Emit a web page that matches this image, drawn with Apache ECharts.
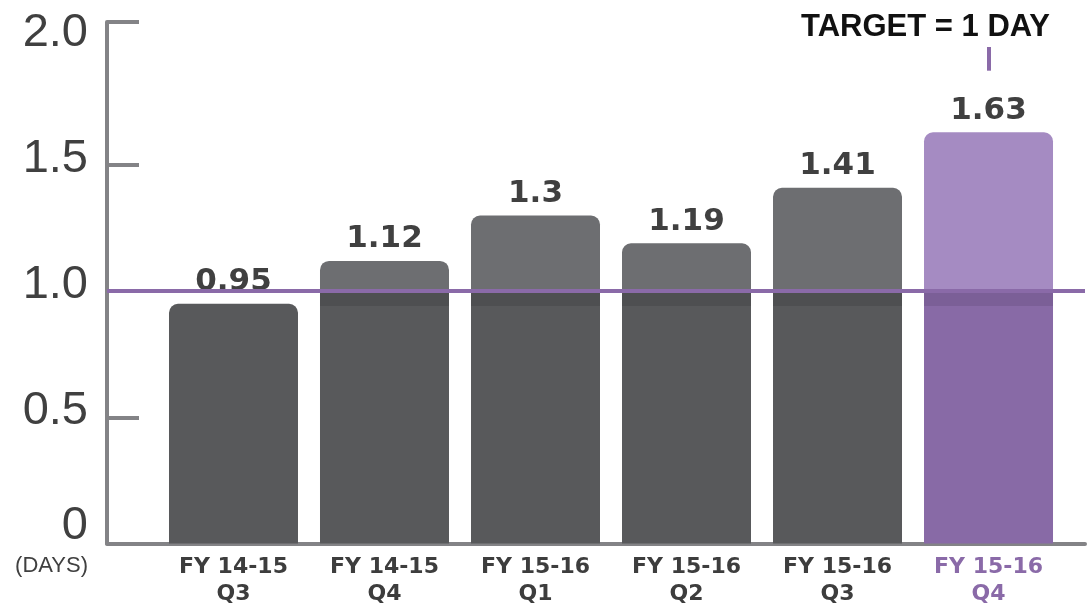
<!DOCTYPE html>
<html>
<head>
<meta charset="utf-8">
<script src="https://cdn.jsdelivr.net/npm/echarts@6/dist/echarts.min.js"></script>
<style>html,body{margin:0;padding:0;background:#fff}#c{width:1092px;height:605px}</style>
</head>
<body>
<div id="c"></div>
<script>
// ---- data ----
const categories = ['FY 14-15\nQ3', 'FY 14-15\nQ4', 'FY 15-16\nQ1', 'FY 15-16\nQ2', 'FY 15-16\nQ3', 'FY 15-16\nQ4'];
const values = [0.95, 1.12, 1.3, 1.19, 1.41, 1.63];
const yTickLabels = ['0', '0.5', '1.0', '1.5', '2.0'];
const yTickValues = [0, 0.5, 1, 1.5, 2];
const targetValue = 1;
const targetText = 'TARGET = 1 DAY';
const unitText = '(DAYS)';

// ---- styles ----
const GRAY = { light: '#6d6e71', band: '#4e4f51', dark: '#58595b' };
const PURPLE = { light: '#a58bc2', band: '#7b5f97', dark: '#886aa6' };
const LINE_PURPLE = '#8a6aa8';
const AXIS_GRAY = '#838386';
const TEXT = '#404040';
const bandBottom = 0.94;
const highlightIndex = categories.length - 1;

function barColor(v, i) {
  const c = i === highlightIndex ? PURPLE : GRAY;
  if (v <= targetValue) return c.dark;
  const f1 = (v - targetValue) / v;
  const f2 = (v - bandBottom) / v;
  return new echarts.graphic.LinearGradient(0, 0, 0, 1, [
    { offset: 0, color: c.light }, { offset: f1, color: c.light },
    { offset: f1, color: c.band }, { offset: f2, color: c.band },
    { offset: f2, color: c.dark }, { offset: 1, color: c.dark }
  ]);
}

const chart = echarts.init(document.getElementById('c'), null, { renderer: 'canvas' });
const yMax = 2.067;
const xMin = -0.8377, xMax = 5.639;

chart.setOption({
  animation: false,
  backgroundColor: '#ffffff',
  grid: { left: 107, right: 7, top: 22, bottom: 60 },
  xAxis: {
    type: 'value', min: xMin, max: xMax,
    splitLine: { show: false },
    axisTick: { show: false },
    axisLine: { show: true, onZero: false, lineStyle: { color: AXIS_GRAY, width: 4 } },
    axisLabel: {
      customValues: categories.map((_, i) => i),
      margin: 10,
      formatter: v => {
        const i = Math.round(v);
        const s = categories[i] || '';
        const st = i === highlightIndex ? 'p' : 'n';
        return s.split('\n').map(l => '{' + st + '|' + l + '}').join('\n');
      },
      rich: {
        n: { fontFamily: 'DejaVu Sans', fontWeight: 'bold', fontSize: 22, color: '#3d3d3d', lineHeight: 27 },
        p: { fontFamily: 'DejaVu Sans', fontWeight: 'bold', fontSize: 22, color: LINE_PURPLE, lineHeight: 27 }
      }
    }
  },
  yAxis: {
    type: 'value', min: 0, max: yMax,
    splitLine: { show: false },
    axisLine: { show: true, onZero: false, lineStyle: { color: AXIS_GRAY, width: 4 } },
    axisTick: { show: true, inside: true, length: 32, customValues: [0.5, 1.5, yMax], lineStyle: { color: AXIS_GRAY, width: 4 } },
    axisLabel: {
      customValues: yTickValues,
      margin: 19,
      formatter: v => {
        const i = yTickValues.indexOf(v);
        const s = i >= 0 ? yTickLabels[i] : '';
        return v === 0 ? '{z|' + s + '}' : '{a|' + s + '}';
      },
      rich: {
        a: { fontFamily: 'Liberation Sans', fontSize: 47, color: TEXT, padding: [0, 0, 12, 0] },
        z: { fontFamily: 'Liberation Sans', fontSize: 47, color: TEXT, padding: [0, 0, 34, 0] }
      }
    }
  },
  series: [{
    type: 'bar',
    barWidth: 129,
    data: values.map((v, i) => ({
      value: [i, v],
      itemStyle: { color: barColor(v, i), borderRadius: [9, 9, 0, 0] }
    })),
    label: {
      show: true, position: 'top', distance: 6,
      formatter: p => String(values[p.dataIndex]),
      fontFamily: 'DejaVu Sans', fontWeight: 'bold', fontSize: 31, color: TEXT
    },
    markLine: {
      silent: true, symbol: 'none', animation: false,
      label: { show: false },
      data: [
        { yAxis: targetValue, lineStyle: { color: LINE_PURPLE, width: 4, type: 'solid' } },
        [
          { coord: [highlightIndex, 1.874], lineStyle: { color: LINE_PURPLE, width: 4, type: 'solid' } },
          { coord: [highlightIndex, 1.968] }
        ]
      ]
    },
    z: 2
  }],
  graphic: [
    { type: 'text', x: 1050, y: 27, style: { text: targetText, textAlign: 'right', textVerticalAlign: 'middle', font: 'bold 31px "Liberation Sans"', fill: '#111111' } },
    { type: 'text', x: 88, y: 566, style: { text: unitText, textAlign: 'right', textVerticalAlign: 'middle', font: '22px "Liberation Sans"', fill: TEXT } }
  ]
});
</script>
</body>
</html>
